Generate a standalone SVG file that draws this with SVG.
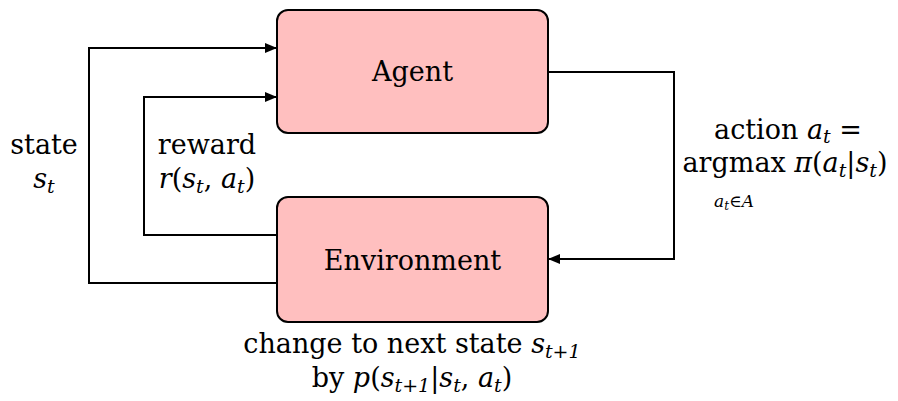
<svg xmlns="http://www.w3.org/2000/svg" width="898" height="401" viewBox="0 0 898 401">
<style>
.box{fill:#ffbfbf;stroke:#000;stroke-width:2}
.ln{fill:none;stroke:#000;stroke-width:2}
.t{font-family:'DejaVu Serif','Liberation Serif',serif;font-size:27px;fill:#000}
.m{font-style:italic}
.s{font-size:19px}
.ss{font-size:17px}
</style>
<defs>
<marker id="ah" markerWidth="12" markerHeight="10" refX="11" refY="5" orient="auto" markerUnits="userSpaceOnUse">
<path d="M0,0 L12,5 L0,10 Z" fill="#000"/>
</marker>
</defs>
<rect width="898" height="401" fill="#fff"/>
<g id="connectors">
<path class="ln" d="M277,283 H89 V48 H276" marker-end="url(#ah)"/>
<path class="ln" d="M277,235 H144 V97 H276" marker-end="url(#ah)"/>
<path class="ln" d="M548,72 H674 V259 H549" marker-end="url(#ah)"/>
</g>
<g id="agent">
<rect class="box" x="277" y="10" width="271" height="123" rx="11"/>
<text class="t" x="412.5" y="81" text-anchor="middle">Agent</text>
</g>
<g id="environment">
<rect class="box" x="277" y="197" width="271" height="125" rx="11"/>
<text class="t" x="412.5" y="270" text-anchor="middle">Environment</text>
</g>
<g id="labels">
<text class="t" x="44" y="154" text-anchor="middle">state</text>
<text class="t" x="44" y="188" text-anchor="middle"><tspan class="m">s</tspan><tspan class="s m" dy="5">t</tspan></text>
<text class="t" x="207" y="154" text-anchor="middle">reward</text>
<text class="t" x="207" y="188" text-anchor="middle"><tspan class="m">r</tspan>(<tspan class="m">s</tspan><tspan class="s m" dy="5">t</tspan><tspan dy="-5">, </tspan><tspan class="m">a</tspan><tspan class="s m" dy="5">t</tspan><tspan dy="-5">)</tspan></text>
<text class="t" x="788" y="139" text-anchor="middle">action <tspan class="m">a</tspan><tspan class="s m" dy="4">t</tspan><tspan dy="-4"> =</tspan></text>
<text class="t" x="785" y="172" text-anchor="middle">argmax <tspan class="m">π</tspan>(<tspan class="m">a</tspan><tspan class="s m" dy="5">t</tspan><tspan dy="-5">|</tspan><tspan class="m">s</tspan><tspan class="s m" dy="5">t</tspan><tspan dy="-5">)</tspan></text>
<text class="t ss" x="734" y="207" text-anchor="middle"><tspan class="m">a</tspan><tspan class="m" font-size="12" dy="3">t</tspan><tspan dy="-3">∈</tspan><tspan class="m">A</tspan></text>
<text class="t" x="412" y="353" text-anchor="middle">change to next state <tspan class="m">s</tspan><tspan class="s m" dy="5">t+1</tspan></text>
<text class="t" x="412" y="387" text-anchor="middle">by <tspan class="m">p</tspan>(<tspan class="m">s</tspan><tspan class="s m" dy="5">t+1</tspan><tspan dy="-5">|</tspan><tspan class="m">s</tspan><tspan class="s m" dy="5">t</tspan><tspan dy="-5">, </tspan><tspan class="m">a</tspan><tspan class="s m" dy="5">t</tspan><tspan dy="-5">)</tspan></text>
</g>
</svg>
